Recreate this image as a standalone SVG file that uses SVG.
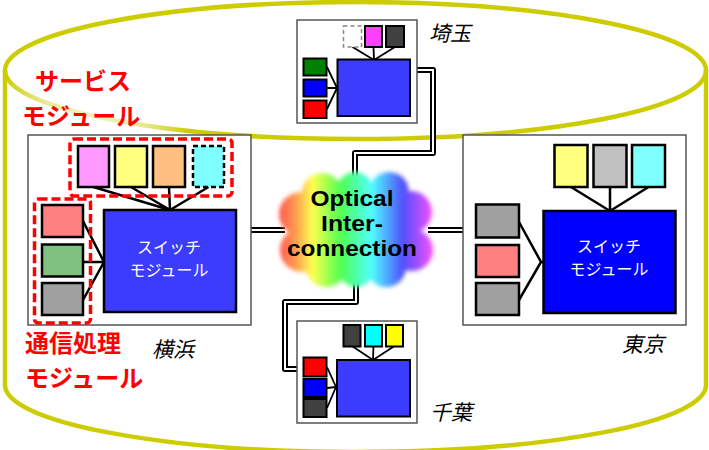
<svg xmlns="http://www.w3.org/2000/svg" width="709" height="450" viewBox="0 0 709 450">
<style>
.cyl{fill:none;stroke:#CCCC00;stroke-width:4.5}
.box{fill:#fff;stroke:#555;stroke-width:1.5}
.grp{fill:none;stroke:#FF0000;stroke-width:3.5;stroke-dasharray:9 4}
.m{stroke:#000;stroke-width:2.5}
.ms{stroke:#000;stroke-width:2}
.ln{fill:none;stroke:#000;stroke-width:2.5}
.lns{fill:none;stroke:#000;stroke-width:1.8}
.sw{stroke:#000;stroke-width:2.5}
.swt{font-family:"Noto Sans CJK JP",sans-serif;font-size:16px;fill:#fff;text-anchor:middle}
.lab{font-family:"Noto Sans CJK JP",sans-serif;font-size:21px;font-style:italic;fill:#000}
.red{font-family:"Noto Sans CJK JP",sans-serif;font-size:24px;font-weight:bold;fill:#FF0000}
.cbk{fill:none;stroke:#000;stroke-width:6;stroke-linejoin:round}
.cwh{fill:none;stroke:#fff;stroke-width:2}
.ct{font-family:"Liberation Sans",Arial,sans-serif;font-size:21.5px;font-weight:bold;fill:#000;text-anchor:middle}
</style>
<defs>
<radialGradient id="fade" gradientUnits="userSpaceOnUse" cx="90" cy="130" r="100">
<stop offset="0" stop-color="#F4F4CC"/>
<stop offset="0.55" stop-color="#E8E890"/>
<stop offset="1" stop-color="#CCCC00"/>
</radialGradient>
<linearGradient id="rainbow" gradientUnits="userSpaceOnUse" x1="278" y1="0" x2="434" y2="0">
<stop offset="0" stop-color="#FF5050"/>
<stop offset="0.12" stop-color="#FFA050"/>
<stop offset="0.22" stop-color="#FFFF50"/>
<stop offset="0.4" stop-color="#50FF50"/>
<stop offset="0.6" stop-color="#50FFFF"/>
<stop offset="0.8" stop-color="#5050FF"/>
<stop offset="1" stop-color="#FF50FF"/>
</linearGradient>
<filter id="soft" x="-10%" y="-10%" width="120%" height="120%">
<feGaussianBlur stdDeviation="2"/>
</filter>
</defs>
<rect width="709" height="450" fill="#fff"/>
<g id="cylinder">
<path class="cyl" d="M5,70 V385 A350.5,67 0 0 0 706,385 V70"/>
<ellipse cx="355.5" cy="70.5" rx="350.5" ry="68.5" fill="none" stroke="url(#fade)" stroke-width="4.5"/>
</g>
<g id="labels">
<text class="red" x="35" y="90">サービス</text>
<text class="red" x="22" y="125">モジュール</text>
<text class="red" x="25" y="352">通信処理</text>
<text class="red" x="25" y="387">モジュール</text>
<text class="lab" x="429" y="41">埼玉</text>
<text class="lab" x="152" y="357">横浜</text>
<text class="lab" x="622" y="352">東京</text>
<text class="lab" x="430" y="420">千葉</text>
</g>
<g id="connectors">
<path class="cbk" d="M251,230 H285"/>
<path class="cwh" d="M251,230 H285"/>
<path class="cbk" d="M428,230 H463"/>
<path class="cwh" d="M428,230 H463"/>
<path class="cbk" d="M417,70 H433 V153 H355 V182"/>
<path class="cwh" d="M417,70 H433 V153 H355 V182"/>
<path class="cbk" d="M356,280 V302 H285 V369 H297"/>
<path class="cwh" d="M356,280 V302 H285 V369 H297"/>
</g>
<g id="cloud">
<g filter="url(#soft)" fill="url(#rainbow)">
<ellipse cx="356" cy="230" rx="62" ry="46"/>
<circle cx="301" cy="214" r="22"/>
<circle cx="302" cy="250" r="22"/>
<circle cx="326" cy="267" r="20"/>
<circle cx="356" cy="270" r="17"/>
<circle cx="386" cy="267" r="20"/>
<circle cx="412" cy="250" r="21"/>
<circle cx="411" cy="212" r="21"/>
<circle cx="389" cy="192" r="20"/>
<circle cx="355" cy="190" r="18"/>
<circle cx="322" cy="193" r="20"/>
</g>
<text class="ct" x="352" y="206" textLength="83" lengthAdjust="spacingAndGlyphs">Optical</text>
<text class="ct" x="352" y="231" textLength="62" lengthAdjust="spacingAndGlyphs">Inter-</text>
<text class="ct" x="352" y="256" textLength="130" lengthAdjust="spacingAndGlyphs">connection</text>
</g>
<g id="yokohama">
<rect class="box" x="28" y="135" width="223" height="190"/>
<path class="ln" d="M93.5,187 L170,210 M131,187 L170,210 M169,187 L170,210 M208.5,187 L170,210"/>
<path class="ln" d="M83,221 L104,262 M83,262 L104,262 M83,300 L104,262"/>
<rect class="m" x="78" y="146" width="31" height="41" fill="#FF99FF"/>
<rect class="m" x="115" y="146" width="32" height="41" fill="#FFFF80"/>
<rect class="m" x="153" y="146" width="32" height="41" fill="#FFBF80"/>
<rect class="m" x="193" y="146" width="31" height="41" fill="#80FFFF" stroke-dasharray="5 3"/>
<rect class="m" x="42" y="205" width="41" height="32" fill="#FF8080"/>
<rect class="m" x="42" y="244.5" width="41" height="32" fill="#80C080"/>
<rect class="m" x="42" y="283" width="41" height="32" fill="#A0A0A0"/>
<rect class="sw" x="104" y="210" width="132" height="102" fill="#3C3CFF"/>
<text class="swt" x="169" y="252.5">スイッチ</text>
<text class="swt" x="169" y="276">モジュール</text>
<rect class="grp" x="70" y="139" width="162" height="57" rx="4"/>
<rect class="grp" x="34.5" y="199" width="56" height="124" rx="4"/>
</g>
<g id="tokyo">
<rect class="box" x="463" y="135" width="223" height="190"/>
<path class="ln" d="M571,187 L610,211 M610,187 L610,211 M648.5,187 L610,211"/>
<path class="ln" d="M519,222 L541,262 L519,300 M541,262 L544,262"/>
<rect class="m" x="554.5" y="145" width="33" height="42" fill="#FFFF80"/>
<rect class="m" x="593.5" y="145" width="33" height="42" fill="#C0C0C0"/>
<rect class="m" x="632" y="145" width="33" height="42" fill="#80FFFF"/>
<rect class="m" x="476" y="204.5" width="43" height="33" fill="#A0A0A0"/>
<rect class="m" x="476" y="245" width="43" height="32" fill="#FF8080"/>
<rect class="m" x="476" y="283" width="43" height="32" fill="#A0A0A0"/>
<rect class="sw" x="543.5" y="211" width="132" height="102" fill="#0000FF"/>
<text class="swt" x="609" y="251.5">スイッチ</text>
<text class="swt" x="609" y="275">モジュール</text>
</g>
<g id="saitama">
<rect class="box" x="297" y="20" width="120" height="103"/>
<path class="lns" d="M352.5,47 L374,60 M373.5,47 L374,60 M395,47 L374,60"/>
<path class="lns" d="M327,67 L337,88 M327,88 L337,88 M327,109 L337,88"/>
<rect x="343.5" y="26" width="18" height="21" fill="#fff" stroke="#888" stroke-width="1.5" stroke-dasharray="4 3"/>
<rect class="ms" x="365" y="26" width="17" height="21" fill="#FF40FF"/>
<rect class="ms" x="386" y="26" width="18" height="21" fill="#404040"/>
<rect class="ms" x="303.5" y="58.5" width="23" height="17" fill="#008000"/>
<rect class="ms" x="303.5" y="79.5" width="23" height="17" fill="#0000FF"/>
<rect class="ms" x="303.5" y="100.5" width="23" height="17.5" fill="#FF0000"/>
<rect class="ms" x="337.5" y="59.5" width="72.5" height="56.5" fill="#3C3CFF"/>
</g>
<g id="chiba">
<rect class="box" x="297" y="321" width="120" height="102"/>
<path class="lns" d="M352,346 L373,360 M373.5,346 L373,360 M394.5,346 L373,360"/>
<path class="lns" d="M327,367 L336,387 M327,388 L336,387 M327,408 L336,387"/>
<rect class="ms" x="343.5" y="325" width="17" height="21.5" fill="#404040"/>
<rect class="ms" x="365" y="325" width="17" height="21.5" fill="#00FFFF"/>
<rect class="ms" x="386" y="325" width="17" height="21.5" fill="#FFFF00"/>
<rect class="ms" x="303.5" y="357.5" width="23" height="19" fill="#FF0000"/>
<rect class="ms" x="303.5" y="379" width="23" height="18" fill="#0000FF"/>
<rect class="ms" x="303.5" y="399" width="23" height="18" fill="#404040"/>
<rect class="ms" x="337" y="360" width="73" height="56.5" fill="#3C3CFF"/>
</g>
</svg>
